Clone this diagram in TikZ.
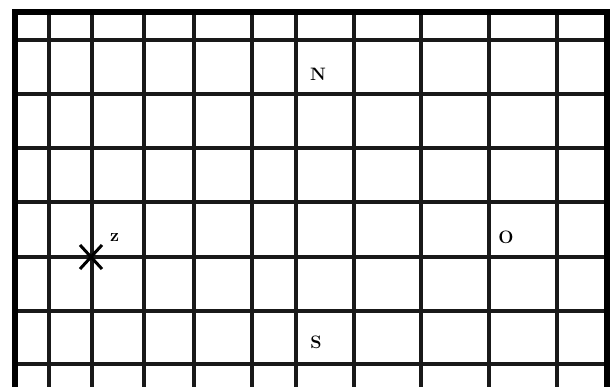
\documentclass[tikz,border=0pt]{standalone}
\usepackage{fontspec}
\usepackage{tikz}
\usetikzlibrary{positioning}

\begin{document}
\begin{tikzpicture}[
    x=1pt, y=-1pt,
    gridline/.style={line width=3.2pt, black!90},
    frame/.style={line width=6pt, black, line join=miter},
    mark label/.style={font=\fontsize{18}{20}\selectfont\bfseries, inner sep=1pt},
    cross/.style={line width=3pt, black}
]
    \useasboundingbox[fill=white] (0,0) rectangle (614,387);

    % Grid
    \foreach \gx in {49,92,144,194,252,296,354,421,489,557}
        \draw[gridline] (\gx,12) -- (\gx,387);
    \foreach \gy in {40,94,148,202,257,311,364}
        \draw[gridline] (15,\gy) -- (607,\gy);

    % Frame (open at the bottom)
    \draw[frame] (15,387) -- (15,12) -- (607,12) -- (607,387);

    % Labels
    \node[mark label] (north) at (318,74) {N};
    \node[mark label] (west) at (506,237) {O};
    \node[mark label] (south) at (316,342) {S};

    % Cross and its label
    \coordinate (site) at (91,257);
    \draw[cross] ([shift={(-11,-12)}]site) -- ([shift={(11,12)}]site);
    \draw[cross] ([shift={(-11,12)}]site) -- ([shift={(11,-12)}]site);
    \node[mark label, above right=14pt and 18pt of site] (sitez) {z};

\end{tikzpicture}
\end{document}
